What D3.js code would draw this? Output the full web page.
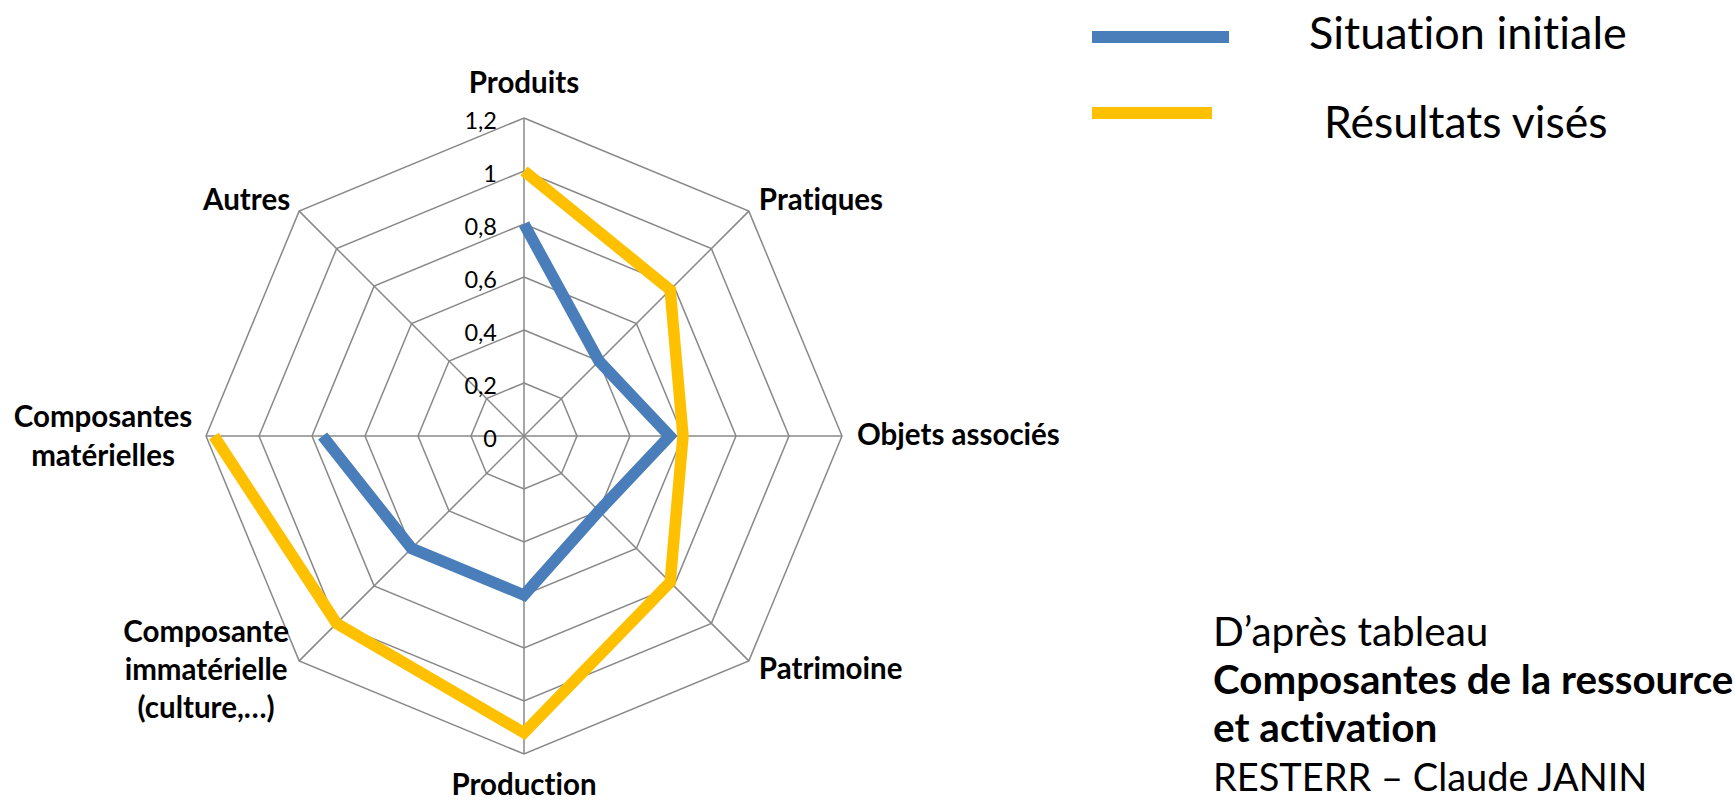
<!DOCTYPE html>
<html>
<head>
<meta charset="utf-8">
<script src="https://cdn.jsdelivr.net/npm/d3@7"></script>
<style>
  html, body { margin: 0; padding: 0; background: #fff; }
  svg { display: block; }
  text { font-family: Lato, "Noto Sans", sans-serif; fill: #000; font-variant-ligatures: none; font-feature-settings: "liga" 0, "clig" 0; }
</style>
</head>
<body>
<svg id="chart" width="1735" height="800"></svg>
<script>
// ---- data ----
const categories = ["Produits", "Pratiques", "Objets associés", "Patrimoine", "Production",
  "Composante immatérielle (culture,…)", "Composantes matérielles", "Autres"];
const categoryLines = [["Produits"], ["Pratiques"], ["Objets associés"], ["Patrimoine"], ["Production"],
  ["Composante", "immatérielle", "(culture,…)"], ["Composantes", "matérielles"], ["Autres"]];
const seriesNames = ["Situation initiale", "Résultats visés"];
const situationInitiale = [0.8, 0.4, 0.55, 0.4, 0.6, 0.6, 0.76, null];
const resultatsVises = [1.0, 0.78, 0.6, 0.78, 1.12, 1.0, 1.17, null];
const tickValues = [0, 0.2, 0.4, 0.6, 0.8, 1.0, 1.2];
const tickLabels = ["0", "0,2", "0,4", "0,6", "0,8", "1", "1,2"];
const noteLines = ["D’après tableau", "Composantes de la ressource", "et activation", "RESTERR – Claude JANIN"];

// ---- layout ----
const cx = 524, cy = 436, R = 318;
const colors = ["#4A7EBB", "#FFC000"];
const svg = d3.select("#chart");
const rScale = d3.scaleLinear().domain([0, 1.2]).range([0, R]);
const angle = d3.scalePoint().domain(d3.range(categories.length + 1)).range([0, 2 * Math.PI]);
const ang = i => angle(i);
const px = (i, v) => cx + rScale(v) * Math.sin(ang(i));
const py = (i, v) => cy - rScale(v) * Math.cos(ang(i));

const g = svg.append("g");

// grid rings
tickValues.slice(1).forEach(t => {
  const pts = categories.map((c, i) => [px(i, t), py(i, t)]);
  g.append("polygon")
    .attr("points", pts.map(p => p.join(",")).join(" "))
    .attr("fill", "none").attr("stroke", "#888888").attr("stroke-width", 1.5);
});
// spokes
categories.forEach((c, i) => {
  g.append("line")
    .attr("x1", cx).attr("y1", cy)
    .attr("x2", px(i, 1.2)).attr("y2", py(i, 1.2))
    .attr("stroke", "#888888").attr("stroke-width", 1.5);
});

// tick labels
tickValues.forEach((t, k) => {
  g.append("text")
    .attr("x", cx - 27).attr("y", py(0, t) + 2)
    .attr("text-anchor", "end").attr("dominant-baseline", "central")
    .style("font-size", "23.5px")
    .text(tickLabels[k]);
});

// series
const line = d3.line()
  .defined(d => d.v !== null)
  .x(d => px(d.i, d.v)).y(d => py(d.i, d.v));
[situationInitiale, resultatsVises].forEach((arr, s) => {
  const pts = arr.map((v, i) => ({ i, v }));
  g.append("path")
    .attr("d", line(pts))
    .attr("fill", "none").attr("stroke", colors[s]).attr("stroke-width", 11.5)
    .attr("stroke-linejoin", "miter").attr("stroke-linecap", "butt");
});

// category labels
const labelLayout = [
  { dx: 0, dy: -25, anchor: "middle", lh: 0 },
  { dx: 10, dy: -1, anchor: "start", lh: 0 },
  { dx: 15, dy: 9, anchor: "start", lh: 0 },
  { dx: 10, dy: 18, anchor: "start", lh: 0 },
  { dx: 0, dy: 41, anchor: "middle", lh: 0 },
  { dx: -93, dy: -19, anchor: "middle", lh: 38 },
  { dx: -103, dy: -9, anchor: "middle", lh: 39 },
  { dx: -9, dy: -1, anchor: "end", lh: 0 }
];
categoryLines.forEach((lines, i) => {
  const L = labelLayout[i];
  const t = g.append("text")
    .attr("text-anchor", L.anchor)
    .style("font-size", "29.5px").style("font-weight", "bold");
  lines.forEach((ln, k) => {
    t.append("tspan")
      .attr("x", px(i, 1.2) + L.dx)
      .attr("y", py(i, 1.2) + L.dy + k * L.lh)
      .text(ln);
  });
});

// legend
const legendY = [37, 113];
const legendX2 = [1229, 1212];
const legendTextX = [1309, 1324];
const legendBase = [49, 138];
const legendSize = [45, 44.5];
seriesNames.forEach((n, s) => {
  svg.append("line")
    .attr("x1", 1092).attr("x2", legendX2[s])
    .attr("y1", legendY[s]).attr("y2", legendY[s])
    .attr("stroke", colors[s]).attr("stroke-width", 12);
  svg.append("text")
    .attr("x", legendTextX[s]).attr("y", legendBase[s])
    .style("font-size", legendSize[s] + "px")
    .text(n);
});

// note
const noteBase = [646, 694, 742, 791];
const noteBold = [false, true, true, false];
const noteSize = [40.5, 40.3, 40.5, 38];
noteLines.forEach((n, k) => {
  svg.append("text")
    .attr("x", 1213).attr("y", noteBase[k])
    .style("font-size", noteSize[k] + "px")
    .style("font-weight", noteBold[k] ? "bold" : "normal")
    .text(n);
});
</script>
</body>
</html>
